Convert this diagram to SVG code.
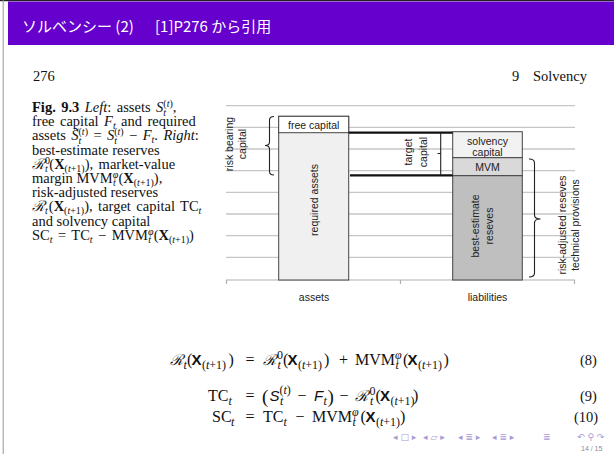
<svg xmlns="http://www.w3.org/2000/svg" width="614" height="454" viewBox="0 0 614 454">
<defs>
<style>
.title{font-family:"Noto Sans CJK JP","Noto Sans",sans-serif;font-size:15px;fill:#ffffff}
.cap{font-family:"Liberation Serif",serif;font-size:14.5px;fill:#111}
.cap .i{font-style:italic}
.cap .b{font-weight:bold}
.cap .s{font-size:10px}
.ws{word-spacing:1.8px}
.ch{font-family:"Liberation Sans",Arial,sans-serif;font-size:10.5px;fill:#222}
.grid{stroke:#c6c6c6;stroke-width:1.3;fill:none}
.axis{stroke:#b0b0b0;stroke-width:1.2;fill:none}
.bar{stroke:#444;stroke-width:1}
.thick{stroke:#111;stroke-width:2.2;fill:none}
.br{stroke:#222;stroke-width:1.1;fill:none}
.eq{font-family:"Liberation Serif",serif;font-size:16px;fill:#111}
.eq .cal{font-family:"DejaVu Serif",serif;font-style:italic;font-size:15px}
.eq .bx{font-family:"Liberation Sans",sans-serif;font-weight:bold;font-size:15px}
.eq .sf{font-family:"Liberation Sans",sans-serif;font-style:italic;font-size:15px}
.eq .s{font-size:12px}
.eq .i{font-style:italic}
.eq .big{font-size:19px}
.num{font-family:"Liberation Serif",serif;font-size:14.5px;fill:#111}
.nav{font-family:"DejaVu Sans",sans-serif;font-size:9px;fill:#a99ad6}
</style>
</defs>
<rect x="0" y="0" width="614" height="454" fill="#ffffff"/>
<g id="frame">
<rect x="0" y="0" width="614" height="1.2" fill="#222"/>
<line x1="3.2" y1="0" x2="3.2" y2="454" stroke="#999" stroke-width="1"/>
</g>
<g id="header">
<rect x="8" y="1.5" width="606" height="43.5" fill="#6600cc"/>
<text class="title" x="22" y="32">ソルベンシー (2)</text>
<text class="title" x="155" y="32">[1]P276 から引用</text>
</g>
<g id="page-head">
<text class="cap" x="33" y="81" font-size="13.5">276</text>
<text class="cap" x="512" y="81" font-size="13.5">9</text>
<text class="cap" x="533" y="81" font-size="13.5">Solvency</text>
</g>
<g id="caption">
<text class="cap ws" x="32" y="112"><tspan class="b">Fig. 9.3</tspan>  <tspan class="i">Left</tspan>: assets <tspan class="i">S</tspan><tspan class="s" dy="-5.5">(</tspan><tspan class="s i">t</tspan><tspan class="s">)</tspan><tspan class="s i" dx="-9.5" dy="9">t</tspan><tspan dx="6.7" dy="-3.5">,</tspan></text>
<text class="cap ws" x="32" y="126.2">free capital <tspan class="i">F</tspan><tspan class="s i" dy="3">t</tspan><tspan dy="-3"> and required</tspan></text>
<text class="cap ws" x="32" y="140.4">assets <tspan class="i">S̃</tspan><tspan class="s" dy="-5.5">(</tspan><tspan class="s i">t</tspan><tspan class="s">)</tspan><tspan class="s i" dx="-9.5" dy="9">t</tspan><tspan dx="6.7" dy="-3.5"> = </tspan><tspan class="i">S</tspan><tspan class="s" dy="-5.5">(</tspan><tspan class="s i">t</tspan><tspan class="s">)</tspan><tspan class="s i" dx="-9.5" dy="9">t</tspan><tspan dx="6.7" dy="-3.5"> − </tspan><tspan class="i">F</tspan><tspan class="s i" dy="3">t</tspan><tspan dy="-3">. </tspan><tspan class="i">Right</tspan>:</text>
<text class="cap" x="32" y="154.6">best-estimate reserves</text>
<text class="cap ws" x="32" y="168.8"><tspan class="i">ℛ</tspan><tspan class="s" dy="-5">0</tspan><tspan class="s i" dx="-5" dy="8">t</tspan><tspan dx="1.5" dy="-3">(</tspan><tspan class="b">X</tspan><tspan class="s" dy="3">(</tspan><tspan class="s i">t</tspan><tspan class="s">+1)</tspan><tspan dy="-3">), market-value</tspan></text>
<text class="cap" x="32" y="183">margin MVM<tspan class="s i" dy="-5">φ</tspan><tspan class="s i" dx="-5.2" dy="8">t</tspan><tspan dx="2.6" dy="-3">(</tspan><tspan class="b">X</tspan><tspan class="s" dy="3">(</tspan><tspan class="s i">t</tspan><tspan class="s">+1)</tspan><tspan dy="-3">),</tspan></text>
<text class="cap" x="32" y="197.2">risk-adjusted reserves</text>
<text class="cap ws" x="32" y="211.4"><tspan class="i">ℛ</tspan><tspan class="s i" dy="3">t</tspan><tspan dx="1" dy="-3">(</tspan><tspan class="b">X</tspan><tspan class="s" dy="3">(</tspan><tspan class="s i">t</tspan><tspan class="s">+1)</tspan><tspan dy="-3">), target capital TC</tspan><tspan class="s i" dy="3">t</tspan></text>
<text class="cap" x="32" y="225.6">and solvency capital</text>
<text class="cap ws" x="32" y="239.8">SC<tspan class="s i" dy="3">t</tspan><tspan dy="-3"> = TC</tspan><tspan class="s i" dy="3">t</tspan><tspan dy="-3"> − MVM</tspan><tspan class="s i" dy="-5">φ</tspan><tspan class="s i" dx="-5.2" dy="8">t</tspan><tspan dx="2.6" dy="-3">(</tspan><tspan class="b">X</tspan><tspan class="s" dy="3">(</tspan><tspan class="s i">t</tspan><tspan class="s">+1)</tspan><tspan dy="-3">)</tspan></text>
</g>
<g id="grid">
<line class="grid" x1="226" y1="105.7" x2="575" y2="105.7"/>
<line class="grid" x1="226" y1="127.3" x2="575" y2="127.3"/>
<line class="grid" x1="226" y1="149" x2="575" y2="149"/>
<line class="grid" x1="226" y1="170.7" x2="575" y2="170.7"/>
<line class="grid" x1="226" y1="192.3" x2="575" y2="192.3"/>
<line class="grid" x1="226" y1="214" x2="575" y2="214"/>
<line class="grid" x1="226" y1="235.7" x2="575" y2="235.7"/>
<line class="grid" x1="226" y1="257.3" x2="575" y2="257.3"/>
<line class="axis" x1="226" y1="280" x2="575" y2="280"/>
<line class="axis" x1="226.5" y1="280" x2="226.5" y2="284"/>
<line class="axis" x1="400.5" y1="280" x2="400.5" y2="284"/>
<line class="axis" x1="574.5" y1="280" x2="574.5" y2="284"/>
<text class="ch" x="314" y="301" text-anchor="middle" font-size="11.5">assets</text>
<text class="ch" x="487.5" y="301" text-anchor="middle" font-size="11.5">liabilities</text>
</g>
<g id="assets-bar">
<rect class="bar" x="278.7" y="116.3" width="70" height="163.7" fill="#f0f0f0"/>
<text class="ch" transform="translate(317.5,200) rotate(-90)" text-anchor="middle" font-size="11.5">required assets</text>
</g>
<g id="free-capital">
<rect class="bar" x="278.7" y="116.3" width="70" height="16.4" fill="#ffffff"/>
<text class="ch" x="313.7" y="128.5" text-anchor="middle" font-size="10.8">free capital</text>
</g>
<g id="solvency-capital">
<rect class="bar" x="452.7" y="131.7" width="69.6" height="26" fill="#f2f2f2"/>
<text class="ch" x="487.5" y="145" text-anchor="middle">solvency</text>
<text class="ch" x="487.5" y="155.5" text-anchor="middle">capital</text>
</g>
<g id="mvm">
<rect class="bar" x="452.7" y="157.7" width="69.6" height="18" fill="#d9d9d9"/>
<text class="ch" x="487.5" y="170.5" text-anchor="middle" font-size="11">MVM</text>
</g>
<g id="best-estimate">
<rect class="bar" x="452.7" y="175.7" width="69.6" height="104.3" fill="#bfbfbf"/>
<text class="ch" transform="translate(479,226) rotate(-90)" text-anchor="middle" font-size="11.3">best-estimate</text>
<text class="ch" transform="translate(493,226) rotate(-90)" text-anchor="middle" font-size="11.3">reseves</text>
</g>
<g id="connectors">
<line class="thick" x1="348.7" y1="132.7" x2="452.7" y2="132.7"/>
<line class="thick" x1="350" y1="175.3" x2="452.7" y2="175.3"/>
<path class="br" d="M440.7,132.7 V175.3 M437.5,153.5 H440.7"/>
<path class="br" d="M274,116.5 Q269.5,116.5 269.5,120 V142 Q269.5,145.5 265,145.5 Q269.5,145.5 269.5,149 V171.5 Q269.5,175 274,175"/>
<path class="br" d="M529,159 Q534.5,159 534.5,163 V215 Q534.5,219 540.5,219 Q534.5,219 534.5,223 V273 Q534.5,277 529,277"/>
</g>
<g id="labels">
<text class="ch" transform="translate(232.5,144) rotate(-90)" text-anchor="middle" font-size="11">risk bearing</text>
<text class="ch" transform="translate(245.5,144) rotate(-90)" text-anchor="middle" font-size="11">capital</text>
<text class="ch" transform="translate(412,152) rotate(-90)" text-anchor="middle" font-size="11">target</text>
<text class="ch" transform="translate(427,152) rotate(-90)" text-anchor="middle" font-size="11">capital</text>
<text class="ch" transform="translate(565.5,225) rotate(-90)" text-anchor="middle" font-size="10.3">risk-adjusted reseves</text>
<text class="ch" transform="translate(579,225) rotate(-90)" text-anchor="middle" font-size="10.3">technical provisions</text>
</g>
<g id="equations">
<text class="eq"><tspan class="cal" x="170" y="365">ℛ</tspan><tspan class="s i" x="183.5" y="368.5">t</tspan><tspan x="187" y="365">(</tspan><tspan class="bx" x="191.5" y="365">X</tspan><tspan class="s" x="202" y="368.5">(</tspan><tspan class="s i">t</tspan><tspan class="s">+1)</tspan><tspan x="228.5" y="365">)</tspan><tspan x="245.5" y="365">=</tspan><tspan class="cal" x="263" y="365">ℛ</tspan><tspan class="s" x="277" y="359">0</tspan><tspan class="s i" x="277.5" y="369">t</tspan><tspan x="283" y="365">(</tspan><tspan class="bx" x="287.5" y="365">X</tspan><tspan class="s" x="298" y="368.5">(</tspan><tspan class="s i">t</tspan><tspan class="s">+1)</tspan><tspan x="324" y="365">)</tspan><tspan x="339" y="365">+</tspan><tspan x="355" y="365">MVM</tspan><tspan class="s i" x="395" y="359">φ</tspan><tspan class="s i" x="395.5" y="369">t</tspan><tspan x="403" y="365">(</tspan><tspan class="bx" x="407.5" y="365">X</tspan><tspan class="s" x="418" y="368.5">(</tspan><tspan class="s i">t</tspan><tspan class="s">+1)</tspan><tspan x="443.5" y="365">)</tspan></text>
<text class="num" x="580" y="365">(8)</text>
<text class="eq"><tspan x="208" y="401">TC</tspan><tspan class="s i" x="228.5" y="404.5">t</tspan><tspan x="245.5" y="401">=</tspan><tspan class="big" x="262" y="402.5">(</tspan><tspan class="sf" x="269.5" y="401">S</tspan><tspan class="s" x="279.5" y="394">(</tspan><tspan class="s i">t</tspan><tspan class="s">)</tspan><tspan class="s i" x="280" y="405">t</tspan><tspan x="297.5" y="401">−</tspan><tspan class="sf" x="314" y="401">F</tspan><tspan class="s i" x="323.5" y="404.5">t</tspan><tspan class="big" x="327.5" y="402.5">)</tspan><tspan x="339.5" y="401">−</tspan><tspan class="cal" x="355" y="401">ℛ</tspan><tspan class="s" x="369.5" y="395">0</tspan><tspan class="s i" x="370" y="405">t</tspan><tspan x="375.5" y="401">(</tspan><tspan class="bx" x="380" y="401">X</tspan><tspan class="s" x="390.5" y="404.5">(</tspan><tspan class="s i">t</tspan><tspan class="s">+1)</tspan><tspan x="413" y="401">)</tspan></text>
<text class="num" x="580" y="401">(9)</text>
<text class="eq"><tspan x="212" y="422">SC</tspan><tspan class="s i" x="231" y="425.5">t</tspan><tspan x="245.5" y="422">=</tspan><tspan x="263" y="422">TC</tspan><tspan class="s i" x="283.5" y="425.5">t</tspan><tspan x="295.5" y="422">−</tspan><tspan x="312" y="422">MVM</tspan><tspan class="s i" x="352" y="416">φ</tspan><tspan class="s i" x="352.5" y="426">t</tspan><tspan x="360.5" y="422">(</tspan><tspan class="bx" x="365.5" y="422">X</tspan><tspan class="s" x="376" y="425.5">(</tspan><tspan class="s i">t</tspan><tspan class="s">+1)</tspan><tspan x="400" y="422">)</tspan></text>
<text class="num" x="574" y="422">(10)</text>
</g>
<g id="navigation">
<text class="nav" x="393" y="440">◂ □ ▸</text>
<text class="nav" x="423" y="440">◂ ▱ ▸</text>
<text class="nav" x="458" y="440">◂ ≣ ▸</text>
<text class="nav" x="492" y="440">◂ ≣ ▸</text>
<text class="nav" x="543" y="440">≣</text>
<text class="nav" x="577" y="440">↶ ⚲ ↷</text>
<text x="581" y="451" font-family="Liberation Sans,sans-serif" font-size="7" fill="#8a8a9a">14 / 15</text>
</g>
</svg>
